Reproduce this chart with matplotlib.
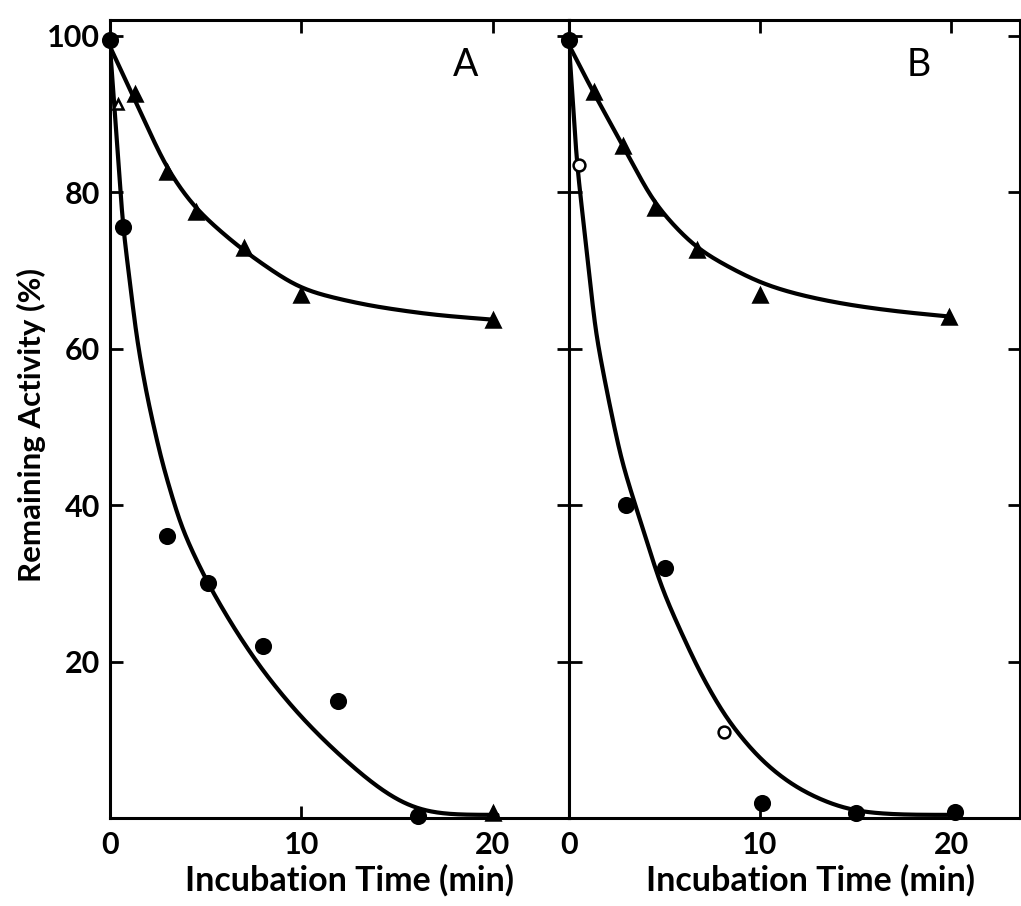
import numpy as np
import matplotlib
matplotlib.use("Agg")
import matplotlib.pyplot as plt

# ---- Panel A: incubation time (min) vs remaining activity (%) ----
a_tri_t = [1.3, 3.0, 4.5, 7.0, 10.0, 20.0]
a_tri_v = [92.5, 82.6, 77.5, 72.9, 66.9, 63.7]
a_dot_t = [0, 0.7, 3.0, 5.1, 8.0, 11.9, 16.1]
a_dot_v = [99.5, 75.6, 36.1, 30.1, 22.0, 15.0, 0.3]
a_low_tri_t = [20.0]
a_low_tri_v = [0.6]
a_open_tri_t = [0.4]
a_open_tri_v = [91.2]

# hand-drawn fitted curves for panel A
a_slow_curve_t = [0, 2.98, 4.45, 6.91, 9.95, 13.46, 16.9, 20.0]
a_slow_curve_v = [98.6, 82.9, 77.8, 72.6, 67.5, 65.5, 64.3, 63.7]
a_fast_curve_t = [0, 0.68, 1.41, 1.94, 2.72, 3.77, 5.08, 6.54, 8.01, 9.79,
                  11.52, 13.46, 14.92, 16.23, 17.8, 20.26]
a_fast_curve_v = [98.6, 75.6, 61.1, 53.8, 45.4, 36.8, 30.1, 24.0, 18.7, 13.4,
                  9.1, 4.9, 2.3, 0.8, 0.4, 0.4]

# ---- Panel B ----
b_tri_t = [1.3, 2.8, 4.5, 6.7, 10.0, 19.9]
b_tri_v = [92.8, 85.9, 78.0, 72.6, 66.8, 64.1]
b_dot_t = [0, 3.0, 5.0, 10.1, 15.0, 20.2]
b_dot_v = [99.5, 40.0, 32.0, 1.9, 0.6, 0.8]
b_open_dot_t = [0.5, 8.1]
b_open_dot_v = [83.5, 11.0]

b_slow_curve_t = [0, 1.26, 2.83, 4.5, 6.7, 10.0, 12.1, 14.55, 17.3, 19.9]
b_slow_curve_v = [98.8, 92.8, 85.9, 78.3, 72.6, 68.3, 66.8, 65.6, 64.7, 64.1]
b_fast_curve_t = [0, 0.42, 1.41, 2.04, 2.77, 4.87, 5.65, 6.86, 8.27, 10.0,
                  11.73, 13.51, 14.87, 17.33, 20.2]
b_fast_curve_v = [98.8, 83.5, 61.8, 53.8, 45.4, 29.2, 24.9, 18.5, 12.5, 7.4,
                  4.0, 1.9, 0.8, 0.4, 0.4]

x_ticks = [0, 10, 20]
y_ticks = [20, 40, 60, 80, 100]
x_label = "Incubation Time (min)"
y_label = "Remaining Activity (%)"
panel_names = ["A", "B"]

FONT = "Lato"
plt.rcParams["font.family"] = [FONT, "DejaVu Sans"]
plt.rcParams["font.weight"] = "bold"

W, H = 1021, 906
fig = plt.figure(figsize=(W / 100, H / 100), dpi=100)
fig.patch.set_facecolor("white")

Y_MAX = 102.0
bottom = (H - 818) / H
height = (818 - 20) / H
ax_a = fig.add_axes([110 / W, bottom, (569 - 110) / W, height])
ax_b = fig.add_axes([569 / W, bottom, (1020 - 569) / W, height])


def french_curve(ax, tx, vy, sigma_px=20.0):
    """Smooth a curve drawn through the given points, working along its
    on-screen arc length so that the steep and flat parts bend alike."""
    to_px = ax.transData.transform
    pts = to_px(np.column_stack([tx, vy]))
    seg = np.hypot(*np.diff(pts, axis=0).T)
    s = np.concatenate([[0], np.cumsum(seg)])
    ss = np.append(np.arange(0, s[-1], 1.0), s[-1])
    xd = np.interp(ss, s, pts[:, 0])
    yd = np.interp(ss, s, pts[:, 1])
    n = min(int(3 * sigma_px), len(xd) - 2)

    def pad(a):
        head = 2 * a[0] - a[n:0:-1]
        tail = 2 * a[-1] - a[-2:-n - 2:-1]
        return np.concatenate([head, a, tail])

    k = np.exp(-0.5 * (np.arange(-n, n + 1) / sigma_px) ** 2)
    k /= k.sum()
    xs = np.convolve(pad(xd), k, mode="valid")
    ys = np.convolve(pad(yd), k, mode="valid")
    back = ax.transData.inverted().transform(np.column_stack([xs, ys]))
    return back[:, 0], back[:, 1]


LW = 3.0
INK = "black"

panels = [
    (ax_a, 24.0,
     [(a_slow_curve_t, a_slow_curve_v), (a_fast_curve_t, a_fast_curve_v)],
     [(a_tri_t, a_tri_v, "^", 9.5, INK), (a_low_tri_t, a_low_tri_v, "^", 9.5, INK),
      (a_dot_t, a_dot_v, "o", 10.5, INK), (a_open_tri_t, a_open_tri_v, "^", 6.5, "white")],
     0.521, 18.6),
    (ax_b, 23.6,
     [(b_slow_curve_t, b_slow_curve_v), (b_fast_curve_t, b_fast_curve_v)],
     [(b_tri_t, b_tri_v, "^", 9.5, INK), (b_dot_t, b_dot_v, "o", 10.5, INK),
      (b_open_dot_t, b_open_dot_v, "o", 8.5, "white")],
     0.535, 18.3),
]

for i, (ax, xmax, curves, marks, label_x, name_t) in enumerate(panels):
    ax.set_xlim(0, xmax)
    ax.set_ylim(0, Y_MAX)
    for ct, cv in curves:
        xs, ys = french_curve(ax, ct, cv)
        ax.plot(xs, ys, color=INK, lw=LW, solid_capstyle="round",
                solid_joinstyle="round", zorder=2)
    for mt, mv, mk, ms, fc in marks:
        ax.plot(mt, mv, linestyle="none", marker=mk, markersize=ms,
                markerfacecolor=fc, markeredgecolor=INK, markeredgewidth=1.8,
                zorder=3, clip_on=False)
    ax.set_xticks(x_ticks)
    ax.set_yticks(y_ticks)
    ax.tick_params(direction="in", length=9, width=2.0, top=True, right=True,
                   labelsize=22, pad=7, colors=INK)
    ax.tick_params(axis="x", pad=9)
    for sp in ax.spines.values():
        sp.set_linewidth(2.2)
        sp.set_color(INK)
    if i == 1:
        ax.tick_params(labelleft=False)
    ax.set_xlabel(x_label, fontsize=24.5, fontweight="bold")
    ax.xaxis.set_label_coords(label_x, -0.058)
    ax.text(name_t, 96.2, panel_names[i], fontsize=27,
            fontweight="normal", ha="center", va="center")

fig.text(31 / W, (H - 425) / H, y_label, rotation=90, fontsize=22.5,
         fontweight="bold", ha="center", va="center")

fig.savefig("out.png", dpi=100, facecolor="white")
